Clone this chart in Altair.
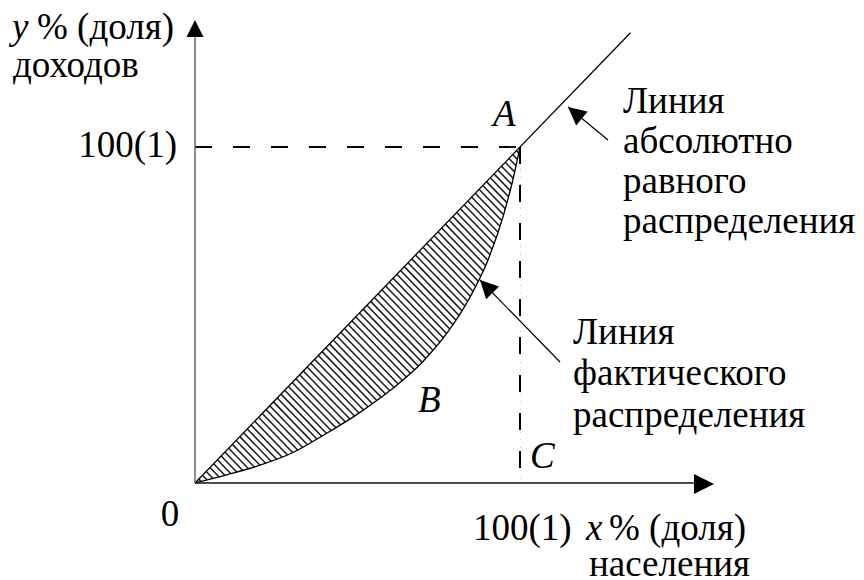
import math
import numpy as np
import pandas as pd
import altair as alt

# ---------------- data (share of population, share of income, %) ----------
lorenz_x = [0, 10, 20, 30, 40, 50, 60, 70, 80, 85, 90, 95, 98, 100]
lorenz_y = [0, 2.5, 5.3, 9.0, 14.5, 20.5, 27.5, 36, 48, 56, 66, 80, 91, 100]
equality_x = [0, 134]
equality_y = [0, 134]
full_share = 100  # point A = (100, 100), point C = (100, 0)

# ---------------- layout helpers (page pixels -> data units) ----------------------------------
OX, OY, KX, KY = 195, 483, 3.25, 3.36
W, H = 848, 572
FONT = "Liberation Serif"
FS = 37


def X(px):
    return (px - OX) / KX


def Y(py):
    return (OY - py) / KY


xscale = alt.Scale(domain=[X(8), X(8 + W)], nice=False, zero=False)
yscale = alt.Scale(domain=[Y(8 + H), Y(8)], nice=False, zero=False)


def xq(f="x"):
    return alt.X(f + ":Q", scale=xscale, axis=None)


def yq(f="y"):
    return alt.Y(f + ":Q", scale=yscale, axis=None)


def seg(x1, y1, x2, y2):
    return pd.DataFrame({"x": [x1], "y": [y1], "x2": [x2], "y2": [y2]})


def rule(df, **style):
    return alt.Chart(df).mark_rule(**style).encode(
        x=xq(), y=yq(), x2=alt.X2("x2:Q"), y2=alt.Y2("y2:Q"))


layers = []

# ---------------- hatching between equality line and Lorenz curve -----------------------------
step = 2.3
cs = np.arange(step, 2 * full_share, step)
hx1 = cs / 2
hx2 = np.minimum(cs, full_share)
hatch_df = pd.DataFrame({"x": hx1, "y": hx1, "x2": hx2, "y2": cs - hx2})
layers.append(rule(hatch_df, color="#1a1a1a", strokeWidth=1.5))

curve_df = pd.DataFrame({"x": lorenz_x, "y": lorenz_y})
# white mask below the Lorenz curve (cuts hatching at the curve)
layers.append(alt.Chart(curve_df).mark_area(color="white", opacity=1, interpolate="monotone")
              .encode(x=xq(), y=yq(), y2=alt.datum(-0.8)))

# ---------------- lines ---------------------------------------------------------------------
layers.append(alt.Chart(curve_df).mark_line(color="black", strokeWidth=1.3, interpolate="monotone")
              .encode(x=xq(), y=yq()))
eq_df = pd.DataFrame({"x": equality_x, "y": equality_y})
layers.append(alt.Chart(eq_df).mark_line(color="black", strokeWidth=1.3).encode(x=xq(), y=yq()))

dash = [17, 21]
layers.append(rule(seg(0, full_share, full_share, full_share), color="black", strokeWidth=1.8, strokeDash=dash))
layers.append(rule(seg(full_share, full_share, full_share, Y(472)), color="black", strokeWidth=2, strokeDash=dash))

# axes
layers.append(rule(seg(0, 0, 0, Y(36)), color="#666666", strokeWidth=1.5))
layers.append(rule(seg(0, 0, X(696), 0), color="#111111", strokeWidth=1.3))

# pointer lines
arrows = [((608, 140), (568, 107), 18), ((560, 362), (480, 280), 18),
          ((195, 40), (195, 20), 17), ((690, 484), (714, 484), 20)]
for (tx, ty), (hx, hy), s in arrows[:2]:
    layers.append(rule(seg(X(tx), Y(ty), X(hx), Y(hy)), color="black", strokeWidth=1.2))

head = "M0,0 L-0.5,1 L0.5,1 Z"
for (tx, ty), (hx, hy), s in arrows:
    ang = math.degrees(math.atan2(hx - tx, -(hy - ty))) % 360
    layers.append(alt.Chart(pd.DataFrame({"x": [X(hx)], "y": [Y(hy)]}))
                  .mark_point(shape=head, filled=True, color="black", opacity=1,
                              strokeWidth=0, size=(2 * s) ** 2, angle=ang)
                  .encode(x=xq(), y=yq()))

# ---------------- texts --------------------------------------------------------------------
texts = [
    # text, px, baseline py, align, italic
    ("y", 12, 39, "left", True),
    ("% (доля)", 37, 39, "left", False),
    ("доходов", 13, 77, "left", False),
    ("100(1)", 177, 157, "right", False),
    ("A", 493, 126, "left", True),
    ("B", 418, 412, "left", True),
    ("C", 530, 468, "left", True),
    ("0", 170, 526, "center", False),
    ("100(1)", 473, 540, "left", False),
    ("x", 586, 540, "left", True),
    ("% (доля)", 609, 540, "left", False),
    ("населения", 589, 576, "left", False),
    ("Линия", 623, 113, "left", False),
    ("абсолютно", 623, 153, "left", False),
    ("равного", 623, 193, "left", False),
    ("распределения", 623, 233, "left", False),
    ("Линия", 573, 344, "left", False),
    ("фактического", 573, 385, "left", False),
    ("распределения", 573, 427, "left", False),
]
tdf = pd.DataFrame(texts, columns=["text", "px", "py", "align", "italic"])
tdf["x"] = tdf["px"].map(X)
tdf["y"] = tdf["py"].map(Y)
for (al, it), g in tdf.groupby(["align", "italic"]):
    mk = dict(font=FONT, fontSize=FS, align=al, baseline="alphabetic", color="black")
    if it:
        mk["fontStyle"] = "italic"
    layers.append(alt.Chart(g[["text", "x", "y"]]).mark_text(**mk)
                  .encode(x=xq(), y=yq(), text="text:N"))

chart = alt.layer(*layers).properties(
    width=W, height=H, padding=0,
    autosize=alt.AutoSizeParams(type="none"),
    background="white",
).configure_view(stroke=None)

chart.save("out.html", embed_options={"renderer": "svg", "actions": False})
